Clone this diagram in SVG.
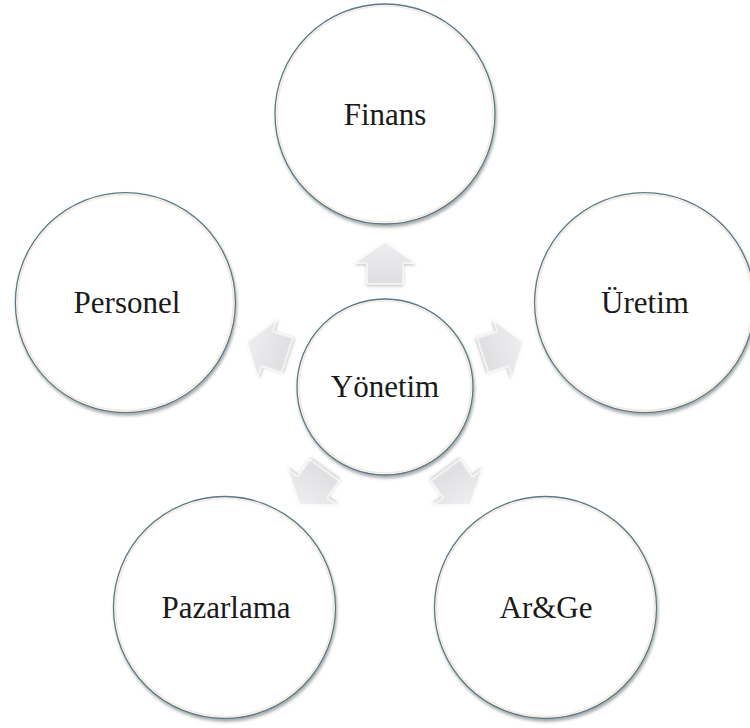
<svg xmlns="http://www.w3.org/2000/svg" width="750" height="728" viewBox="0 0 750 728">
  <defs>
    <filter id="softShadow" x="-20%" y="-20%" width="140%" height="140%">
      <feDropShadow dx="1" dy="2.5" stdDeviation="1.8" flood-color="#000" flood-opacity="0.35"/>
    </filter>
    <filter id="arrowShadow" x="-30%" y="-30%" width="160%" height="160%">
      <feDropShadow dx="0" dy="1.5" stdDeviation="1.5" flood-color="#000" flood-opacity="0.25"/>
    </filter>
    <linearGradient id="arrowFill" x1="0" y1="0" x2="0" y2="1">
      <stop offset="0" stop-color="#eeeef0"/>
      <stop offset="1" stop-color="#dfdfe2"/>
    </linearGradient>
    <!-- block arrow pointing up, positioned relative to the hub centre -->
    <polygon id="spoke" points="0,-145 30,-124 18,-124 18,-103 -18,-103 -18,-124 -30,-124"/>
  </defs>
  <style>
    .ring { fill: #ffffff; stroke: #557a88; stroke-width: 1.3; filter: url(#softShadow); }
    .tint { fill: none; stroke: #f4ddd2; stroke-width: 1.6; opacity: 0.7; }
    .label { font-family: "Liberation Serif", "Times New Roman", serif; font-size: 31px; fill: #1a1a1a; text-anchor: middle; }
    .arrow { fill: url(#arrowFill); stroke: #ffffff; stroke-width: 1; filter: url(#arrowShadow); }
  </style>

  <rect width="750" height="728" fill="#ffffff"/>

  <!-- outer nodes -->
  <g id="finans">
    <circle class="ring" cx="385" cy="114" r="110"/>
    <circle class="tint" cx="385" cy="114" r="108"/>
    <text class="label" x="385" y="125">Finans</text>
  </g>
  <g id="uretim">
    <circle class="ring" cx="644.6" cy="302.6" r="110"/>
    <circle class="tint" cx="644.6" cy="302.6" r="108"/>
    <text class="label" x="645" y="313">Üretim</text>
  </g>
  <g id="arge">
    <circle class="ring" cx="545.5" cy="607.5" r="111"/>
    <circle class="tint" cx="545.5" cy="607.5" r="109"/>
    <text class="label" x="546" y="618">Ar&amp;Ge</text>
  </g>
  <g id="pazarlama">
    <circle class="ring" cx="224.5" cy="607.5" r="111"/>
    <circle class="tint" cx="224.5" cy="607.5" r="109"/>
    <text class="label" x="226" y="618">Pazarlama</text>
  </g>
  <g id="personel">
    <circle class="ring" cx="125.4" cy="302.6" r="110"/>
    <circle class="tint" cx="125.4" cy="302.6" r="108"/>
    <text class="label" x="127" y="313">Personel</text>
  </g>

  <!-- hub -->
  <g id="yonetim">
    <circle class="ring" cx="385" cy="387" r="88"/>
    <circle class="tint" cx="385" cy="387" r="86"/>
    <text class="label" x="385" y="397">Yönetim</text>
  </g>

  <!-- connectors: arrows radiating from the hub -->
  <g id="connectors">
    <use href="#spoke" class="arrow" transform="translate(385 387) rotate(0)"/>
    <use href="#spoke" class="arrow" transform="translate(385 387) rotate(72)"/>
    <use href="#spoke" class="arrow" transform="translate(385 387) rotate(144)"/>
    <use href="#spoke" class="arrow" transform="translate(385 387) rotate(216)"/>
    <use href="#spoke" class="arrow" transform="translate(385 387) rotate(288)"/>
  </g>
</svg>
